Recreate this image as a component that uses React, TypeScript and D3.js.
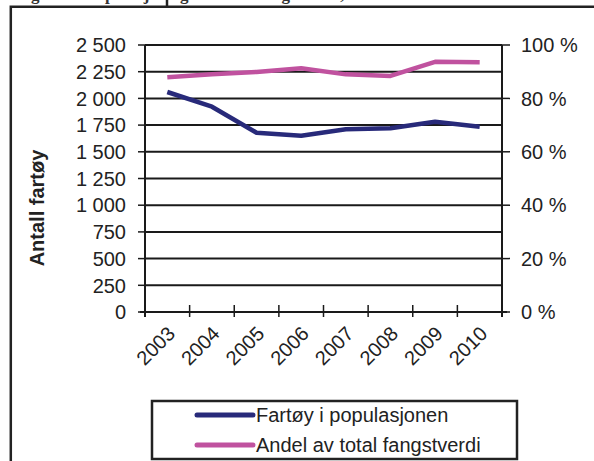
import React from "react";
import * as d3 from "d3";

const years = ["2003", "2004", "2005", "2006", "2007", "2008", "2009", "2010"];
const fartoy = [2060, 1922, 1679, 1651, 1711, 1720, 1782, 1735];
const andel = [87.9, 89.0, 89.9, 91.3, 89.0, 88.4, 93.7, 93.5];
const leftTicks = [0, 250, 500, 750, 1000, 1250, 1500, 1750, 2000, 2250, 2500];
const leftTickLabels = ["0", "250", "500", "750", "1 000", "1 250", "1 500", "1 750", "2 000", "2 250", "2 500"];
const rightTicks = [0, 20, 40, 60, 80, 100];
const rightTickLabels = ["0 %", "20 %", "40 %", "60 %", "80 %", "100 %"];
const seriesNames = ["Fartøy i populasjonen", "Andel av total fangstverdi"];
const yAxisTitle = "Antall fartøy";
const titleText = "Figur 3.4 Populasjon og andel av fangstverdi, Fiskeflåten";

const BLUE = "#282a7a";
const PINK = "#c0529f";
const FONT = "'Liberation Sans', Arial, sans-serif";

export default function App() {
  const W = 594, H = 461;
  const left = 145, right = 502, top = 45, bottom = 312;
  const x = d3.scaleBand<string>().domain(years).range([left, right]).padding(0);
  const yL = d3.scaleLinear().domain([0, 2500]).range([bottom, top]);
  const yR = d3.scaleLinear().domain([0, 100]).range([bottom, top]);
  const cx = (d: string) => (x(d) as number) + x.bandwidth() / 2;
  const lineL = d3.line<number>().x((_, i) => cx(years[i])).y((v) => yL(v));
  const lineR = d3.line<number>().x((_, i) => cx(years[i])).y((v) => yR(v));
  const boundaries = years.map((y) => x(y) as number).concat([right]);

  return (
    <svg width={W} height={H} style={{ display: "block", position: "absolute", left: 0, top: 0, background: "#fff" }}>
      {/* clipped title (cut off at the top edge, as in the reference) */}
      <text x={16} y={-0.5} fontFamily="'Liberation Serif', serif" fontWeight="bold" fontSize={17} fill="#333">{titleText}</text>
      {/* outer frame */}
      <line x1={167} x2={167} y1={0} y2={7} stroke="#222" strokeWidth={2.5} />
      <path d={`M10.8,${H + 5} V6.8 H${W + 5}`} fill="none" stroke="#222" strokeWidth={2.5} />

      {/* grid lines */}
      {leftTicks.map((t) => (
        <line key={"g" + t} x1={left} x2={right} y1={yL(t)} y2={yL(t)} stroke="#1a1a1a" strokeWidth={2} />
      ))}
      {/* left axis */}
      <line x1={left} x2={left} y1={top} y2={bottom + 5} stroke="#1a1a1a" strokeWidth={2} />
      {leftTicks.map((t, i) => (
        <g key={"l" + t}>
          <line x1={left - 7} x2={left} y1={yL(t)} y2={yL(t)} stroke="#1a1a1a" strokeWidth={1.5} />
          <text x={126} y={yL(t)} dy="0.36em" textAnchor="end" fontFamily={FONT} fontSize={20} fill="#222">{leftTickLabels[i]}</text>
        </g>
      ))}
      {/* right axis */}
      <line x1={right} x2={right} y1={top} y2={bottom + 5} stroke="#1a1a1a" strokeWidth={2} />
      {rightTicks.map((t, i) => (
        <g key={"r" + t}>
          <line x1={right} x2={right + 8} y1={yR(t)} y2={yR(t)} stroke="#1a1a1a" strokeWidth={1.5} />
          <text x={521} y={yR(t)} dy="0.36em" textAnchor="start" fontFamily={FONT} fontSize={20} fill="#222">{rightTickLabels[i]}</text>
        </g>
      ))}
      {/* x axis ticks */}
      {boundaries.map((bx, i) => (
        <line key={"xt" + i} x1={bx} x2={bx} y1={bottom - 7} y2={bottom + 5} stroke="#1a1a1a" strokeWidth={1.5} />
      ))}
      <line x1={left - 5} x2={right + 5} y1={bottom} y2={bottom} stroke="#1a1a1a" strokeWidth={2} />
      {years.map((yr) => (
        <text key={yr} transform={`translate(${cx(yr) + 9},${bottom + 23}) rotate(-45)`} textAnchor="end" fontFamily={FONT} fontSize={20} fill="#222">{yr}</text>
      ))}

      {/* lines */}
      <path d={lineR(andel) as string} fill="none" stroke={PINK} strokeWidth={4.5} strokeLinejoin="round" />
      <path d={lineL(fartoy) as string} fill="none" stroke={BLUE} strokeWidth={4.5} strokeLinejoin="round" />

      {/* y axis title */}
      <text transform={`translate(44,208) rotate(-90)`} textAnchor="middle" fontFamily={FONT} fontWeight="bold" fontSize={20} fill="#222">{yAxisTitle}</text>

      {/* legend */}
      <rect x={152} y={401} width={365} height={58} fill="#fff" stroke="#222" strokeWidth={2.5} />
      {seriesNames.map((n, i) => (
        <g key={n}>
          <line x1={197} x2={253} y1={415 + i * 30} y2={415 + i * 30} stroke={i === 0 ? BLUE : PINK} strokeWidth={5} strokeLinecap="round" />
          <text x={256} y={415 + i * 30} dy="0.36em" fontFamily={FONT} fontSize={20} fill="#222">{n}</text>
        </g>
      ))}
    </svg>
  );
}
